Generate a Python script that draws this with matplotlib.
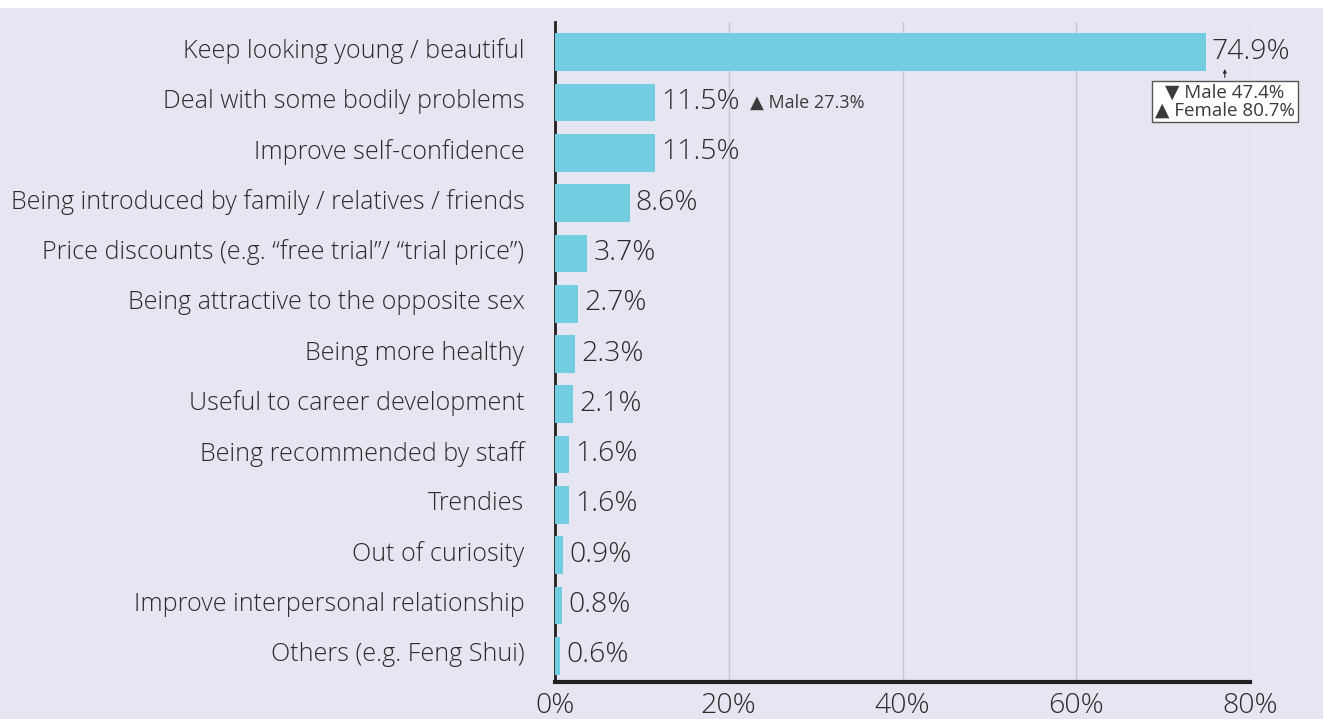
import numpy as np
import matplotlib
matplotlib.use("Agg")
import matplotlib.pyplot as plt
from matplotlib.patches import Rectangle
from matplotlib.transforms import ScaledTranslation

plt.rcParams['font.family'] = ['Open Sans', 'DejaVu Sans']

# Data
reasons = [
    "Keep looking young / beautiful",
    "Deal with some bodily problems",
    "Improve self-confidence",
    "Being introduced by family / relatives / friends",
    "Price discounts (e.g. \u201cfree trial\u201d/ \u201ctrial price\u201d)",
    "Being attractive to the opposite sex",
    "Being more healthy",
    "Useful to career development",
    "Being recommended by staff",
    "Trendies",
    "Out of curiosity",
    "Improve interpersonal relationship",
    "Others (e.g. Feng Shui)",
]
percent = [74.9, 11.5, 11.5, 8.6, 3.7, 2.7, 2.3, 2.1, 1.6, 1.6, 0.9, 0.8, 0.6]
xticks = [0, 20, 40, 60, 80]
gender_top = ["\u25BC Male 47.4%", "\u25B2 Female 80.7%"]
gender_second = "\u25B2 Male 27.3%"

bg = "#E6E6F2"
bar_col = "#72CDE0"
txt = "#2B2B2B"

fig = plt.figure(figsize=(13.23, 7.19), dpi=100)
fig.patch.set_facecolor("white")
fig.patches.append(Rectangle((0, 0), 1, 1 - 8 / 719, transform=fig.transFigure,
                             facecolor=bg, edgecolor="none", zorder=-10))

ax = fig.add_axes([555 / 1323, 1 - 682 / 719, 695 / 1323, 660 / 719])
ax.set_facecolor(bg)
ax.patch.set_alpha(0)

y = np.arange(len(reasons))
ax.barh(y, percent, height=0.75, color=bar_col, zorder=3)

for yi, v in zip(y, percent):
    ax.text(v + 0.7, yi - 0.01, f"{v}%", va="center", ha="left", fontsize=20.5,
            fontweight="light", color=txt, zorder=4)

ax.set_xlim(0, 80)
ax.set_ylim(12.52, -0.6)
ax.set_xticks(xticks)
ax.set_xticklabels([f"{t}%" for t in xticks], fontsize=20.5, fontweight="light", color=txt)
ax.set_yticks(y)
ax.set_yticklabels(reasons, fontsize=18.1, fontweight="light", color=txt)
ax.tick_params(axis="both", length=0)
ax.tick_params(axis="y", pad=22)
ax.tick_params(axis="x", pad=7)

# category labels sit a little above the bar centres
shift = ScaledTranslation(0, 4 / 100, fig.dpi_scale_trans)
for lab in ax.get_yticklabels():
    lab.set_transform(lab.get_transform() + shift)

ax.xaxis.grid(True, color="#C6C6D0", linewidth=1, zorder=0)
ax.set_axisbelow(True)
for s in ["top", "right"]:
    ax.spines[s].set_visible(False)
ax.spines["left"].set_linewidth(2)
ax.spines["left"].set_color("#231F20")
ax.spines["bottom"].set_linewidth(3)
ax.spines["bottom"].set_color("#231F20")

# annotations
ax.text(22.4, 1, gender_second, va="center", ha="left", fontsize=13, color="#3A3A3A", zorder=4)
ax.annotate("\n".join(gender_top), xy=(77.1, 0.28), xytext=(77.1, 0.98),
            ha="center", va="center", fontsize=13.5, color="#3A3A3A", linespacing=1.0,
            bbox=dict(boxstyle="square,pad=0.15", facecolor="white", edgecolor="#555555", linewidth=1),
            arrowprops=dict(arrowstyle="-|>", color=txt, linewidth=0.8, mutation_scale=5),
            zorder=5, annotation_clip=False)

fig.savefig("out.png", dpi=100, facecolor=fig.get_facecolor())
